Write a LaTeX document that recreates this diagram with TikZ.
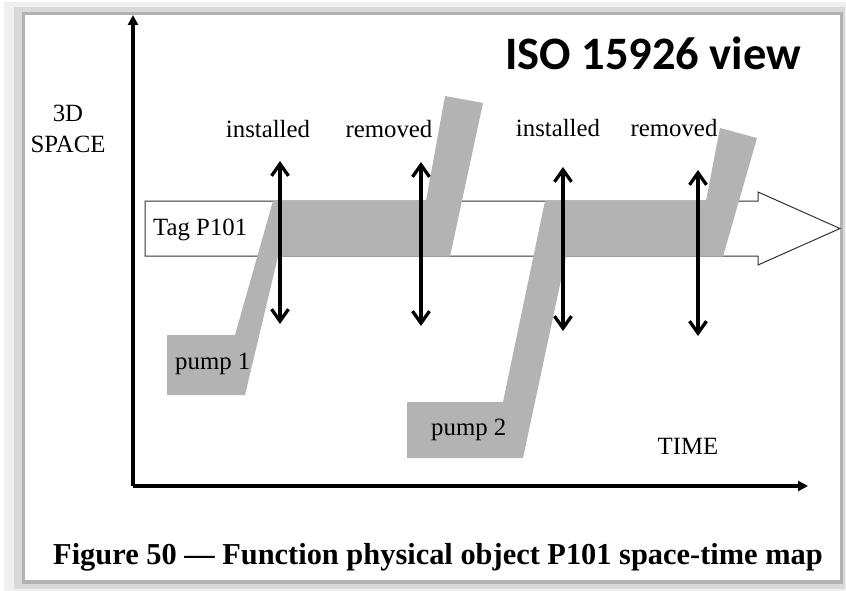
\documentclass[tikz,border=0pt]{standalone}
\usepackage{fontspec}
\setmainfont{Liberation Serif}
\newfontfamily\isofont{Carlito}
\usepackage{tikz}
\usetikzlibrary{arrows.meta,positioning}
\definecolor{bandgray}{RGB}{179,179,179}

\begin{document}
\begin{tikzpicture}[x=1pt,y=-1pt,
    lbl/.style={font=\fontsize{24.8}{30}\selectfont,inner sep=0pt,anchor=base},
    axis/.style={line width=3.3pt,-{Triangle[length=10pt,width=10pt]}},
    evt/.style={line width=3.3pt,{Straight Barb[length=12pt,width=17pt]}-{Straight Barb[length=12pt,width=17pt]}},
    band/.style={fill=bandgray,draw=none},
    tagbox/.style={draw=black!80,line width=1pt,fill=white}]
  \useasboundingbox (0,0) rectangle (846,591);
  % shadow frame
  \fill[gray!12] (4,2) rectangle (846,591);
  \fill[gray!30] (14,7) rectangle (845,589);
  \fill[gray!60] (22,12) rectangle (843,584);
  \fill[white] (25,15) rectangle (840,580);

  % axes
  \coordinate (origin) at (133,486);
  \coordinate (space_end) at (133,15);
  \coordinate (time_end) at (808,486);
  \draw[axis] (origin) -- (space_end);
  \draw[axis] (origin) -- (time_end);

  % tag P101 as a wide arrow
  \draw[tagbox] (145,201) -- (758,201) -- (758,192) -- (840,228.5)
    -- (758,265) -- (758,256) -- (145,256) -- cycle;

  % pump 1 and pump 2 world lines
  \path[band] (167,335) -- (235,335) -- (273,201) -- (426,201) -- (445,96)
    -- (483,103) -- (450,256.5) -- (278,256.5) -- (245,395) -- (167,395) -- cycle;
  \path[band] (407,402) -- (503,402) -- (545,201) -- (706,201) -- (720,128)
    -- (757,138) -- (723,256.5) -- (566,256.5) -- (523,458) -- (407,458) -- cycle;

  % labels
  \node[lbl] (lbl_3d) at (68,122) {3D};
  \node[lbl] (lbl_space) at (68,153) {SPACE};
  \node[lbl] (lbl_time) at (688,454) {TIME};
  \node[lbl,anchor=base west] (lbl_tag) at (153,235) {Tag P101};
  \node[lbl,anchor=base west] (lbl_p1) at (175,369) {pump 1};
  \node[lbl,anchor=base west] (lbl_p2) at (431,435) {pump 2};
  \node[lbl] (inst_1) at (268,138) {installed};
  \node[lbl] (rem_1) at (389,138) {removed};
  \node[lbl] (inst_2) at (558,137) {installed};
  \node[lbl] (rem_2) at (674,137) {removed};
  \node[font=\isofont\bfseries\fontsize{46.5}{50}\selectfont,inner sep=0pt,anchor=base west]
    (iso_view) at (505,70) {ISO 15926 view};
  \node[font=\bfseries\fontsize{30.4}{34}\selectfont,inner sep=0pt,anchor=base west]
    (caption) at (53,564) {Figure 50 --- Function physical object P101 space-time map};

  % install / remove events
  \coordinate (ev_1t) at (280,161);
  \coordinate (ev_1b) at (280,324);
  \coordinate (ev_2t) at (421,162);
  \coordinate (ev_2b) at (421,326);
  \coordinate (ev_3t) at (563,167);
  \coordinate (ev_3b) at (563,331);
  \coordinate (ev_4t) at (698,170);
  \coordinate (ev_4b) at (698,336);
  \path[evt]
    (ev_1t) edge (ev_1b)
    (ev_2t) edge (ev_2b)
    (ev_3t) edge (ev_3b)
    (ev_4t) edge (ev_4b);
\end{tikzpicture}
\end{document}
